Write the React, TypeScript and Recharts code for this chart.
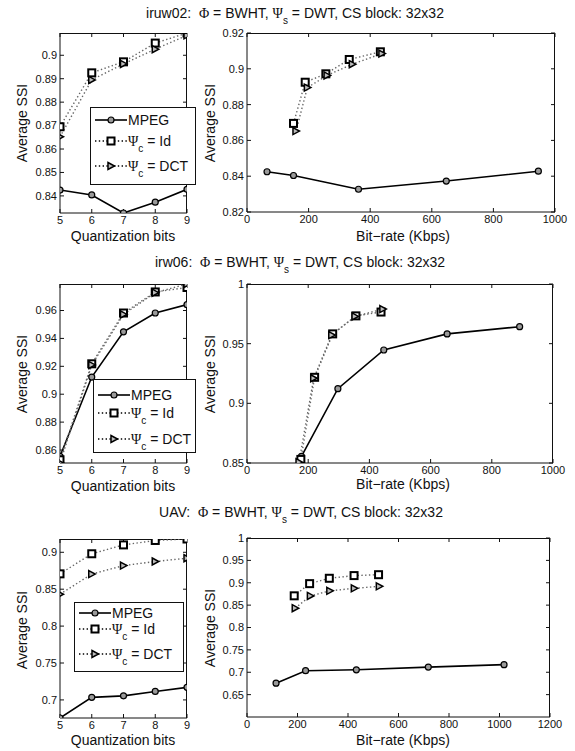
import { LineChart, Line, XAxis, YAxis } from 'recharts';

// quantization bits (x of the left panels)
const BITS = [5, 6, 7, 8, 9];

// iruw02
const IRUW02_MPEG_SSI = [0.8425, 0.8404, 0.8327, 0.8373, 0.8428];
const IRUW02_ID_SSI = [0.8695, 0.8925, 0.8972, 0.9052, 0.9095];
const IRUW02_DCT_SSI = [0.8652, 0.8895, 0.8963, 0.9026, 0.9085];
const IRUW02_MPEG_RATE = [65, 151, 362, 647, 946];
const IRUW02_ID_RATE = [151, 189, 256, 332, 433];
const IRUW02_DCT_RATE = [159, 196, 260, 342, 438];

// irw06
const IRW06_MPEG_SSI = [0.8555, 0.9123, 0.9447, 0.9582, 0.9642];
const IRW06_ID_SSI = [0.853, 0.9218, 0.9582, 0.9733, 0.9765];
const IRW06_DCT_SSI = [0.8507, 0.921, 0.9572, 0.9728, 0.979];
const IRW06_MPEG_RATE = [178, 297, 447, 654, 891];
const IRW06_ID_RATE = [176, 221, 280, 356, 438];
const IRW06_DCT_RATE = [170, 218, 277, 353, 444];

// UAV
const UAV_MPEG_SSI = [0.6755, 0.7035, 0.7055, 0.7115, 0.717];
const UAV_ID_SSI = [0.8708, 0.898, 0.91, 0.916, 0.918];
const UAV_DCT_SSI = [0.8432, 0.8705, 0.882, 0.8875, 0.892];
const UAV_MPEG_RATE = [115, 232, 433, 718, 1018];
const UAV_ID_RATE = [187, 248, 326, 424, 521];
const UAV_DCT_RATE = [191, 251, 328, 425, 524];

// tick labels
const BIT_TICKS = [5, 6, 7, 8, 9];
const RATE_TICKS_1000 = [0, 200, 400, 600, 800, 1000];
const RATE_TICKS_1200 = [0, 200, 400, 600, 800, 1000, 1200];
const IRUW02_Q_TICKS = [0.84, 0.85, 0.86, 0.87, 0.88, 0.89, 0.9];
const IRUW02_R_TICKS = [0.82, 0.84, 0.86, 0.88, 0.9, 0.92];
const IRW06_Q_TICKS = [0.86, 0.88, 0.9, 0.92, 0.94, 0.96];
const IRW06_R_TICKS = [0.85, 0.9, 0.95, 1];
const UAV_Q_TICKS = [0.7, 0.75, 0.8, 0.85, 0.9];
const UAV_R_TICKS = [0.65, 0.7, 0.75, 0.8, 0.85, 0.9, 0.95, 1];

type Kind = 'mpeg' | 'id' | 'dct';
type Series = { kind: Kind; xs: number[]; ys: number[] };
type Box = { x0: number; y0: number; x1: number; y1: number };

const FONT = '"Liberation Sans", Arial, Helvetica, sans-serif';
const SERIF = '"Liberation Serif", "DejaVu Serif", serif';
const INK = '#111';

const fmt = (v: number) => String(Number(v.toFixed(2)));

function Circle({ cx, cy }: { cx: number; cy: number }) {
  return <circle cx={cx} cy={cy} r={3} fill="#9a9a9a" stroke="#000" strokeWidth={1.2} />;
}

function Square({ cx, cy }: { cx: number; cy: number }) {
  return <rect x={cx - 3.5} y={cy - 3.5} width={7} height={7} fill="#fff" stroke="#000" strokeWidth={2} />;
}

function Tri({ cx, cy }: { cx: number; cy: number }) {
  return (
    <polygon
      points={`${cx - 3},${cy - 3.5} ${cx + 3.5},${cy} ${cx - 3},${cy + 3.5}`}
      fill="#bbb"
      stroke="#000"
      strokeWidth={1.5}
    />
  );
}

const MARK = { mpeg: Circle, id: Square, dct: Tri };

function Panel({
  box,
  xDomain,
  xTicks,
  yTicks,
  yDomain,
  series,
}: {
  box: Box;
  xDomain: [number, number];
  xTicks: number[];
  yTicks: number[];
  yDomain?: [number, number];
  series: Series[];
}) {
  const AX_W = 44;
  const AX_H = 24;
  const PAD = 8;
  const PAD_R = 16;
  const w = box.x1 - box.x0;
  const h = box.y1 - box.y0;
  const all = series.flatMap((s) => s.ys);
  const dom: [number, number] = yDomain ?? [Math.min(...all), Math.max(...all)];
  const axisLine = { stroke: INK, strokeWidth: 1 };
  const tick = { fontSize: 11, fill: '#111' };
  return (
    <div style={{ position: 'absolute', left: box.x0 - AX_W, top: box.y0 - PAD, width: w + AX_W + PAD_R, height: h + PAD + AX_H }}>
      {/* top and right edges of the axes box, with their inward ticks */}
      <svg
        width={w + AX_W + PAD_R}
        height={h + PAD + AX_H}
        style={{ position: 'absolute', left: 0, top: 0 }}
      >
        <path
          d={`M${AX_W} ${PAD + 0.5}H${AX_W + w - 0.5}V${PAD + h}`}
          fill="none"
          stroke={INK}
          strokeWidth={1}
        />
        {xTicks.map((t) => {
          const px = AX_W + ((t - xDomain[0]) / (xDomain[1] - xDomain[0])) * w;
          return <line key={'t' + t} x1={px} x2={px} y1={PAD} y2={PAD + 4} stroke={INK} strokeWidth={1} />;
        })}
        {yTicks.map((t) => {
          const py = PAD + h - ((t - dom[0]) / (dom[1] - dom[0])) * h;
          return <line key={'r' + t} x1={AX_W + w - 4} x2={AX_W + w} y1={py} y2={py} stroke={INK} strokeWidth={1} />;
        })}
      </svg>
      <div style={{ position: 'absolute', left: 0, top: 0 }}>
        <LineChart
          width={w + AX_W + PAD_R}
          height={h + PAD + AX_H}
          margin={{ top: PAD, right: PAD_R, bottom: 0, left: 0 }}
        >
          <XAxis
            type="number"
            dataKey="x"
            domain={xDomain}
            ticks={xTicks}
            interval={0}
            height={AX_H}
            tickSize={-4}
            tickMargin={7}
            tick={tick}
            axisLine={axisLine}
            tickLine={axisLine}
            allowDataOverflow
          />
          <YAxis
            type="number"
            domain={dom}
            ticks={yTicks}
            interval={0}
            width={AX_W}
            tickSize={-4}
            tickMargin={7}
            tick={tick}
            tickFormatter={fmt}
            axisLine={axisLine}
            tickLine={axisLine}
            allowDataOverflow
          />
          {series.map((s) => {
            const Mark = MARK[s.kind];
            return (
              <Line
                key={s.kind}
                data={s.xs.map((x, i) => ({ x, y: s.ys[i] }))}
                dataKey="y"
                type="linear"
                stroke={s.kind === 'mpeg' ? '#000' : '#666'}
                strokeWidth={s.kind === 'mpeg' ? 1.6 : 1.4}
                strokeDasharray={s.kind === 'mpeg' ? undefined : '1.4 2.4'}
                dot={(p: any) => <Mark key={p.index} cx={p.cx} cy={p.cy} />}
                activeDot={false}
                isAnimationActive={false}
              />
            );
          })}
        </LineChart>
      </div>
    </div>
  );
}

function Sub({ children }: { children: string }) {
  return <span style={{ fontSize: 10, position: 'relative', top: 6 }}>{children}</span>;
}

function Title({ name, top, cx }: { name: string; top: number; cx: number }) {
  return (
    <div
      style={{
        position: 'absolute',
        left: 0,
        width: cx * 2,
        top: top - 9,
        textAlign: 'center',
        fontSize: 14,
        whiteSpace: 'nowrap',
      }}
    >
      {name}:&nbsp;&nbsp;<span style={{ fontFamily: SERIF }}>Φ</span> = BWHT,{' '}
      <span style={{ fontFamily: SERIF }}>Ψ</span>
      <Sub>s</Sub> = DWT, CS block: 32x32
    </div>
  );
}

function Text({ x, y, text, rotate }: { x: number; y: number; text: string; rotate?: boolean }) {
  return (
    <div
      style={{
        position: 'absolute',
        left: x - 100,
        top: y - 9,
        width: 200,
        textAlign: 'center',
        fontSize: 14,
        lineHeight: '18px',
        transform: rotate ? 'rotate(-90deg)' : undefined,
      }}
    >
      {text}
    </div>
  );
}

function LegendBox({ left, top, width, height, rows }: { left: number; top: number; width: number; height: number; rows: number[] }) {
  const labels: [Kind, any][] = [
    ['mpeg', 'MPEG'],
    ['id', <><span style={{ fontFamily: SERIF }}>Ψ</span><Sub>c</Sub> = Id</>],
    ['dct', <><span style={{ fontFamily: SERIF }}>Ψ</span><Sub>c</Sub> = DCT</>],
  ];
  return (
    <div
      style={{
        position: 'absolute',
        left,
        top,
        width,
        height,
        border: `1px solid ${INK}`,
        background: '#fff',
        boxSizing: 'border-box',
      }}
    >
      {labels.map(([k, label], i) => {
        const Mark = MARK[k];
        return (
          <div key={k} style={{ position: 'absolute', left: 0, top: rows[i] - 9, height: 18, width }}>
            <svg width={36} height={18} style={{ position: 'absolute', left: 2, top: 0 }}>
              <line
                x1={2}
                x2={34}
                y1={9}
                y2={9}
                stroke="#000"
                strokeWidth={k === 'mpeg' ? 1.6 : 1.4}
                strokeDasharray={k === 'mpeg' ? undefined : '1.4 2.4'}
              />
              <Mark cx={18} cy={9} />
            </svg>
            <span style={{ position: 'absolute', left: 37, top: 0, fontSize: 14, lineHeight: '18px', whiteSpace: 'nowrap' }}>
              {label}
            </span>
          </div>
        );
      })}
    </div>
  );
}

export default function App() {
  return (
    <div
      style={{
        position: 'absolute',
        left: 0,
        top: 0,
        width: 575,
        height: 751,
        background: '#fff',
        fontFamily: FONT,
        color: '#111',
        overflow: 'hidden',
      }}
    >
      {/* row 1: iruw02 */}
      <Title name="iruw02" top={14} cx={295} />
      <Panel
        box={{ x0: 60, y0: 33, x1: 187, y1: 213 }}
        xDomain={[5, 9]}
        xTicks={BIT_TICKS}
        yTicks={IRUW02_Q_TICKS}
        series={[
          { kind: 'mpeg', xs: BITS, ys: IRUW02_MPEG_SSI },
          { kind: 'id', xs: BITS, ys: IRUW02_ID_SSI },
          { kind: 'dct', xs: BITS, ys: IRUW02_DCT_SSI },
        ]}
      />
      <Panel
        box={{ x0: 247, y0: 33, x1: 555, y1: 212 }}
        xDomain={[0, 1000]}
        xTicks={RATE_TICKS_1000}
        yTicks={IRUW02_R_TICKS}
        yDomain={[0.82, 0.92]}
        series={[
          { kind: 'mpeg', xs: IRUW02_MPEG_RATE, ys: IRUW02_MPEG_SSI },
          { kind: 'id', xs: IRUW02_ID_RATE, ys: IRUW02_ID_SSI },
          { kind: 'dct', xs: IRUW02_DCT_RATE, ys: IRUW02_DCT_SSI },
        ]}
      />
      <LegendBox left={90} top={107} width={106} height={78} rows={[12, 33, 58]} />
      <Text x={22} y={123} text="Average SSI" rotate />
      <Text x={210} y={123} text="Average SSI" rotate />
      <Text x={123} y={236} text="Quantization bits" />
      <Text x={403} y={236} text="Bit−rate (Kbps)" />

      {/* row 2: irw06 */}
      <Title name="irw06" top={263} cx={300} />
      <Panel
        box={{ x0: 60, y0: 284, x1: 187, y1: 463 }}
        xDomain={[5, 9]}
        xTicks={BIT_TICKS}
        yTicks={IRW06_Q_TICKS}
        series={[
          { kind: 'mpeg', xs: BITS, ys: IRW06_MPEG_SSI },
          { kind: 'id', xs: BITS, ys: IRW06_ID_SSI },
          { kind: 'dct', xs: BITS, ys: IRW06_DCT_SSI },
        ]}
      />
      <Panel
        box={{ x0: 247, y0: 284, x1: 553, y1: 463 }}
        xDomain={[0, 1000]}
        xTicks={RATE_TICKS_1000}
        yTicks={IRW06_R_TICKS}
        yDomain={[0.85, 1]}
        series={[
          { kind: 'mpeg', xs: IRW06_MPEG_RATE, ys: IRW06_MPEG_SSI },
          { kind: 'id', xs: IRW06_ID_RATE, ys: IRW06_ID_SSI },
          { kind: 'dct', xs: IRW06_DCT_RATE, ys: IRW06_DCT_SSI },
        ]}
      />
      <LegendBox left={93} top={379} width={103} height={74} rows={[15, 33, 59]} />
      <Text x={22} y={374} text="Average SSI" rotate />
      <Text x={210} y={374} text="Average SSI" rotate />
      <Text x={123} y={486} text="Quantization bits" />
      <Text x={403} y={484} text="Bit−rate (Kbps)" />

      {/* row 3: UAV */}
      <Title name="UAV" top={513} cx={301} />
      <Panel
        box={{ x0: 60, y0: 539, x1: 187, y1: 718 }}
        xDomain={[5, 9]}
        xTicks={BIT_TICKS}
        yTicks={UAV_Q_TICKS}
        series={[
          { kind: 'mpeg', xs: BITS, ys: UAV_MPEG_SSI },
          { kind: 'id', xs: BITS, ys: UAV_ID_SSI },
          { kind: 'dct', xs: BITS, ys: UAV_DCT_SSI },
        ]}
      />
      <Panel
        box={{ x0: 247, y0: 538, x1: 550, y1: 717 }}
        xDomain={[0, 1200]}
        xTicks={RATE_TICKS_1200}
        yTicks={UAV_R_TICKS}
        yDomain={[0.6, 1]}
        series={[
          { kind: 'mpeg', xs: UAV_MPEG_RATE, ys: UAV_MPEG_SSI },
          { kind: 'id', xs: UAV_ID_RATE, ys: UAV_ID_SSI },
          { kind: 'dct', xs: UAV_DCT_RATE, ys: UAV_DCT_SSI },
        ]}
      />
      <LegendBox left={74} top={602} width={110} height={70} rows={[10, 26, 51]} />
      <Text x={22} y={630} text="Average SSI" rotate />
      <Text x={210} y={628} text="Average SSI" rotate />
      <Text x={123} y={740} text="Quantization bits" />
      <Text x={403} y={740} text="Bit−rate (Kbps)" />
    </div>
  );
}
